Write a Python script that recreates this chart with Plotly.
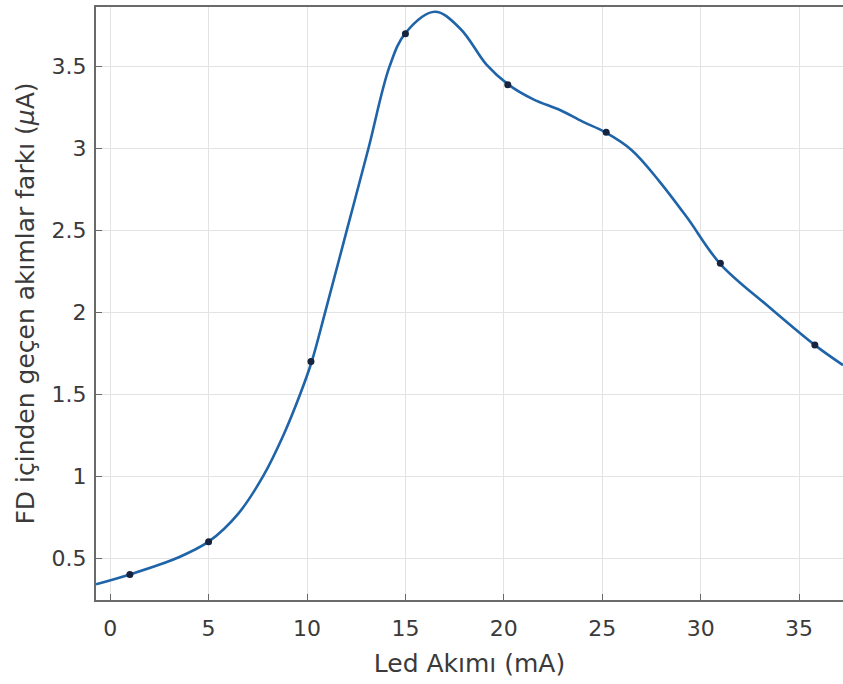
import plotly.graph_objects as go

# measured points (markers)
led_ma = [1, 5, 10.2, 15, 20.2, 25.2, 31, 35.8]
fd_ua = [0.40, 0.60, 1.70, 3.70, 3.39, 3.10, 2.30, 1.80]

# smooth fitted curve
curve_x = [-0.72, 1.0, 3.39, 5.0, 6.5, 7.77, 8.8, 9.65, 10.24, 10.92, 12.02, 13.12,
           14.19, 15.0, 16.5, 17.8, 19.13, 20.23, 21.5, 22.85, 24.0, 25.14,
           26.5, 27.9, 29.3, 31.0, 33.4, 35.8, 37.23]
curve_y = [0.34, 0.40, 0.50, 0.60, 0.77, 1.00, 1.25, 1.50, 1.70, 2.00, 2.50, 3.00,
           3.50, 3.705, 3.835, 3.73, 3.51, 3.39, 3.30, 3.235, 3.164, 3.10,
           2.99, 2.80, 2.58, 2.295, 2.04, 1.80, 1.678]

x_ticks = [0, 5, 10, 15, 20, 25, 30, 35]
y_ticks = [0.5, 1, 1.5, 2, 2.5, 3, 3.5]

FONT = "DejaVu Sans"

fig = go.Figure()
fig.add_trace(go.Scatter(x=curve_x, y=curve_y, mode="lines",
                         line=dict(color="#1f64a8", width=2.6, shape="spline", smoothing=1.0),
                         hoverinfo="skip"))
fig.add_trace(go.Scatter(x=led_ma, y=fd_ua, mode="markers",
                         marker=dict(color="#16243f", size=7)))

axis_common = dict(
    showgrid=True, gridcolor="#e3e3e3", gridwidth=1,
    showline=True, linecolor="#6a6a6a", linewidth=2,
    ticks="inside", ticklen=6, tickcolor="#6a6a6a", tickwidth=1,
    zeroline=False,
    tickfont=dict(family=FONT, size=22, color="#3a3a3a"),
)

fig.update_layout(
    width=843, height=684,
    margin=dict(l=96, r=0, t=7, b=84, autoexpand=False),
    paper_bgcolor="white", plot_bgcolor="white",
    showlegend=False,
    font=dict(family=FONT, color="#3a3a3a"),
    xaxis=dict(axis_common, range=[-0.72, 37.23], tickvals=x_ticks, mirror=True,
               automargin=False, ticklabelstandoff=8,
               title=dict(text="Led Akımı (mA)", font=dict(size=25), standoff=14)),
    yaxis=dict(axis_common, range=[0.244, 3.864], tickvals=y_ticks,
               ticktext=[f"{v:g}" for v in y_ticks], automargin=False,
               ticklabelstandoff=3,
               title=dict(text="FD içinden geçen akımlar farkı (<i>μ</i>A)",
                          font=dict(size=25), standoff=10)),
)

fig.write_html("out.html", config={"displayModeBar": False},
               post_script="document.body.style.margin='0';")
